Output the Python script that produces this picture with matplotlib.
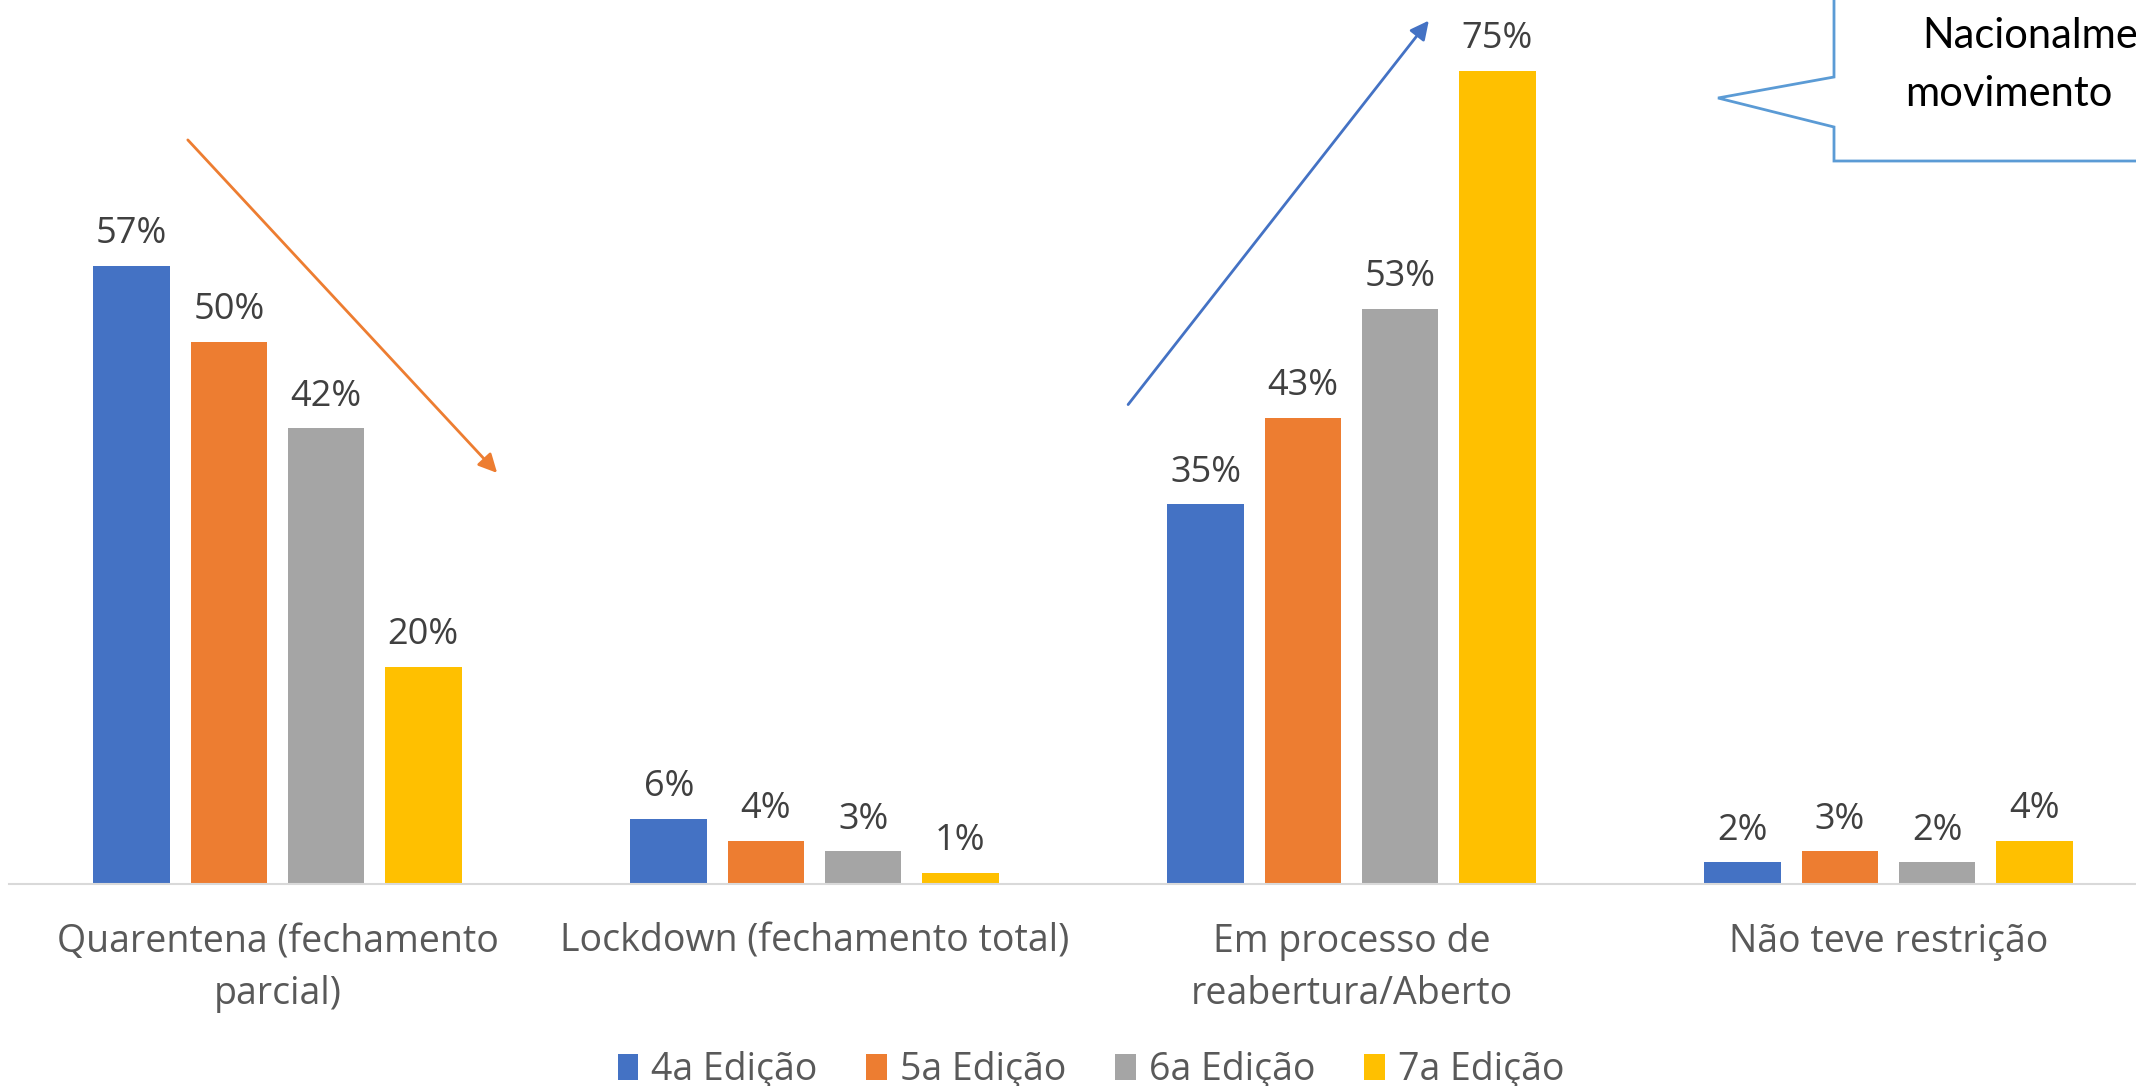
"""Grouped bar chart: situação de restrição por edição da pesquisa"""

import numpy as np
import matplotlib.pyplot as plt
from matplotlib.patches import Polygon

categories = ["Quarentena (fechamento\nparcial)", "Lockdown (fechamento total)",
              "Em processo de\nreabertura/Aberto", "Não teve restrição"]
editions = ["4a Edição", "5a Edição", "6a Edição", "7a Edição"]
ed4 = [57, 6, 35, 2]
ed5 = [50, 4, 43, 3]
ed6 = [42, 3, 53, 2]
ed7 = [20, 1, 75, 4]
colors = ["#4472C4", "#ED7D31", "#A5A5A5", "#FFC000"]

W, H = 2136, 1086


def main():
    plt.rcParams["font.family"] = ["Open Sans", "DejaVu Sans"]
    fig = plt.figure(figsize=(W / 100, H / 100), dpi=100)
    # plot area runs a bit past the right edge of the picture (cropped slide)
    ax = fig.add_axes([9 / W, 202 / H, 2148 / W, 884 / H])

    x = np.arange(len(categories))
    step = 0.181
    width = 0.143
    series = [ed4, ed5, ed6, ed7]
    for i, (vals, col, name) in enumerate(zip(series, colors, editions)):
        pos = x + (i - 1.5) * step
        ax.bar(pos, vals, width=width, color=col, label=name)
        for p, v in zip(pos, vals):
            ax.text(p, v + 2.1, f"{v}%", ha="center", va="baseline",
                    fontsize=26, color="#404040")

    ax.set_xlim(-0.5, 3.5)
    ax.set_ylim(0, 81.5)
    for s in ["top", "left", "right"]:
        ax.spines[s].set_visible(False)
    ax.spines["bottom"].set_color("#D9D9D9")
    ax.spines["bottom"].set_linewidth(1.5)
    ax.set_yticks([])
    ax.set_xticks(x)
    ax.set_xticklabels(categories, fontsize=27, color="#595959", linespacing=1.5)
    ax.tick_params(axis="x", length=0, pad=28)

    # trend arrows
    ax.annotate("", xy=(0.409, 37.9), xytext=(-0.167, 68.6),
                arrowprops=dict(arrowstyle="-|>", color="#ED7D31", lw=2,
                                mutation_scale=28, shrinkA=0, shrinkB=0))
    ax.annotate("", xy=(2.144, 79.6), xytext=(1.584, 44.2),
                arrowprops=dict(arrowstyle="-|>", color="#4472C4", lw=2,
                                mutation_scale=28, shrinkA=0, shrinkB=0),
                annotation_clip=False)

    ax.legend(loc="center", bbox_to_anchor=(1091 / W, 16 / H),
              bbox_transform=fig.transFigure, ncol=4, frameon=False,
              fontsize=27, handlelength=0.55, handleheight=0.7,
              handletextpad=0.35, columnspacing=1.3, labelcolor="#595959")

    # callout box (cut by the right edge)
    over = fig.add_axes([0, 0, 1, 1])
    over.set_xlim(0, W)
    over.set_ylim(H, 0)
    over.axis("off")
    pts = [(1834, -10), (1834, 77), (1718, 98), (1834, 127), (1834, 161),
           (2150, 161), (2150, -10)]
    over.add_patch(Polygon(pts, closed=True, facecolor="white",
                           edgecolor="#5B9BD5", lw=2))
    over.text(1922, 48, "Nacionalme", fontsize=30, family="Lato",
              color="black", va="baseline")
    over.text(1905, 106, "movimento", fontsize=30, family="Lato",
              color="black", va="baseline")

    fig.savefig("out.png", dpi=100)


if __name__ == "__main__":
    main()
